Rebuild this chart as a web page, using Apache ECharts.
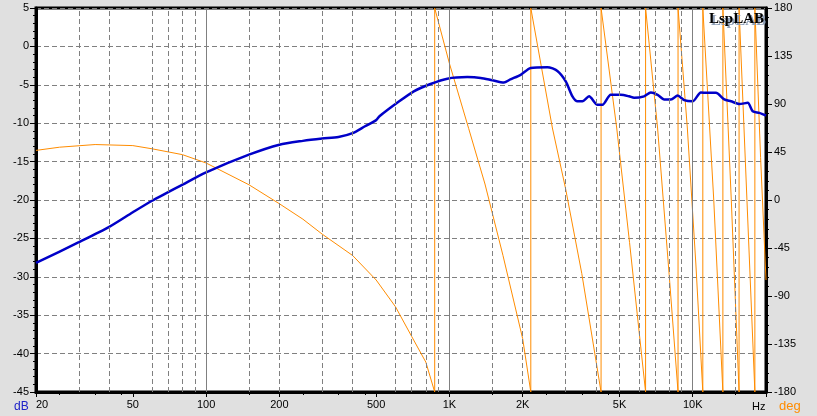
<!DOCTYPE html>
<html><head><meta charset="utf-8">
<script src="https://cdn.jsdelivr.net/npm/echarts@6/dist/echarts.min.js"></script>
<style>html,body{margin:0;padding:0;background:#e0e0e0}#c{width:817px;height:416px}</style>
</head><body><div id="c"></div>
<script>
// Magnitude (dB, left axis)
const magFreq = [20, 30, 40, 50, 60, 80, 100, 150, 200, 250, 300, 350, 400, 450, 500, 516, 610, 714, 836, 980, 1184, 1344, 1500, 1675, 1780, 1963, 2158, 2528, 2778, 3006, 3203, 3359, 3522, 3749, 4060, 4257, 4604, 5062, 5475, 5741, 6311, 6726, 7170, 7633, 8136, 8668, 9224, 9986, 10800, 11515, 12453, 13473, 14360, 15535, 16827, 17640, 18780, 20000];
const magDb = [-28.2, -25.5, -23.5, -21.6, -20.1, -18.0, -16.4, -14.1, -12.8, -12.3, -12.0, -11.8, -11.3, -10.4, -9.6, -9.1, -7.35, -5.85, -4.9, -4.2, -4.0, -4.1, -4.4, -4.7, -4.3, -3.7, -2.8, -2.7, -3.2, -4.55, -6.5, -7.15, -7.15, -6.5, -7.6, -7.6, -6.3, -6.3, -6.5, -6.7, -6.5, -6.0, -6.3, -6.9, -6.9, -6.4, -7.0, -7.15, -6.0, -6.05, -6.05, -6.9, -7.15, -7.5, -7.35, -8.45, -8.65, -9.0];
// Phase (deg, right axis), wrapped at +/-180
const phaseFreq = [20, 25, 35, 50, 60, 80, 100, 150, 200, 250, 300, 400, 500, 600, 700, 800, 870, 870, 1000, 1200, 1400, 1660, 2000, 2160, 2160, 2650, 3000, 3500, 4200, 4200, 4870, 5500, 6400, 6400, 7170, 8000, 8700, 8700, 9500, 10300, 11000, 11000, 12200, 13300, 13300, 14400, 15500, 15500, 16700, 18000, 18000, 19000, 20000];
const phaseDeg = [46.5, 49.5, 52, 51, 48, 42.5, 34.7, 14.3, -3.5, -18, -32, -52, -75, -100, -128, -152, -180, 180, 128, 67, 15, -52, -130, -180, 180, 67.5, 11, -69, -180, 180, 67.5, -40, -180, 180, 67.5, -70, -180, 180, 67.5, -60, -180, 180, 0, -180, 180, 0, -180, 180, 0, -180, 180, 40, -75];
// Axis ticks / labels / grid
const xLabelValues = [20, 50, 100, 200, 500, 1000, 2000, 5000, 10000];
const xMinorTicks = [25, 35, 45, 150, 250, 350, 450, 1500, 2500, 3500, 4500, 15000];
const xGridDashed = [30, 40, 60, 70, 80, 90, 150, 200, 300, 400, 600, 700, 800, 900, 1500, 2000, 3000, 4000, 5000, 6000, 7000, 8000, 9000, 15000];
const xGridSolid = [100, 1000, 10000];

const chart = echarts.init(document.getElementById('c'), null, {renderer: 'canvas'});
const lblFont = {fontFamily: 'Liberation Sans, Arial, sans-serif', fontSize: 11, color: '#000'};
const gridLines = xGridDashed.map(v => ({xAxis: v, lineStyle: {type: [5, 3], color: '#808080', width: 1}}))
  .concat(xGridSolid.map(v => ({xAxis: v, lineStyle: {type: 'solid', color: '#808080', width: 1}})));

chart.setOption({
  animation: false,
  backgroundColor: '#e0e0e0',
  grid: {left: 36, right: 51, top: 8, bottom: 24, show: true, backgroundColor: '#fff', borderColor: '#000', borderWidth: 3},
  xAxis: [{
    type: 'log', logBase: 10, min: 20, max: 20000,
    axisLine: {show: true, onZero: false, lineStyle: {color: '#000', width: 3}},
    axisTick: {show: true, inside: false, length: 5, customValues: xLabelValues.concat([20000]), lineStyle: {color: '#000', width: 1}},
    axisLabel: Object.assign({show: true, margin: 7, customValues: xLabelValues, alignMinLabel: 'left',
      formatter: v => v >= 1000 ? (v / 1000) + 'K' : String(v)}, lblFont),
    splitLine: {show: false}, minorTick: {show: false}
  }, {
    type: 'log', logBase: 10, min: 20, max: 20000, position: 'bottom',
    axisLine: {show: false, onZero: false},
    axisTick: {show: true, inside: false, length: 3, customValues: xMinorTicks, lineStyle: {color: '#000', width: 1}},
    axisLabel: {show: false}, splitLine: {show: false}
  }],
  yAxis: [{
    type: 'value', min: -45, max: 5, interval: 5, position: 'left',
    axisLine: {show: true, onZero: false, lineStyle: {color: '#000', width: 3}},
    axisTick: {show: true, inside: false, length: 6, lineStyle: {color: '#000'}},
    minorTick: {show: true, splitNumber: 5, length: 3, lineStyle: {color: '#000'}},
    axisLabel: Object.assign({margin: 7}, lblFont),
    splitLine: {show: true, lineStyle: {type: [5, 3], color: '#808080', width: 1}}
  }, {
    type: 'value', min: -180, max: 180, interval: 45, position: 'right',
    axisLine: {show: true, onZero: false, lineStyle: {color: '#000', width: 3}},
    axisTick: {show: true, inside: false, length: 6, lineStyle: {color: '#000'}},
    minorTick: {show: true, splitNumber: 5, length: 3, lineStyle: {color: '#000'}},
    axisLabel: Object.assign({margin: 8}, lblFont),
    splitLine: {show: false}
  }],
  series: [{
    type: 'line', xAxisIndex: 0, yAxisIndex: 0, data: [], z: 1, silent: true,
    markLine: {silent: true, symbol: ['none', 'none'], label: {show: false}, data: gridLines}
  }, {
    name: 'phase', type: 'line', xAxisIndex: 0, yAxisIndex: 1, z: 3,
    data: phaseFreq.map((f, i) => [f, phaseDeg[i]]),
    showSymbol: false, symbol: 'none',
    lineStyle: {color: '#ff8c00', width: 1}
  }, {
    name: 'magnitude', type: 'line', xAxisIndex: 0, yAxisIndex: 0, z: 4,
    data: magFreq.map((f, i) => [f, magDb[i]]),
    showSymbol: false, symbol: 'none', smooth: 0.25,
    lineStyle: {color: '#0000c8', width: 2.5}
  }],
  graphic: [
    {type: 'text', left: 14, top: 401, style: {text: 'dB', fill: '#1e22c8', font: '12px Liberation Sans, Arial, sans-serif'}},
    {type: 'text', left: 752, top: 401, style: {text: 'Hz', fill: '#000', font: '11px Liberation Sans, Arial, sans-serif'}},
    {type: 'text', left: 779, top: 400, style: {text: 'deg', fill: '#ff8c00', font: '13px Liberation Sans, Arial, sans-serif'}},
    {type: 'text', left: 711, top: 14, z: 100, style: {text: 'LspLAB', fill: '#8fa0b8', font: 'bold 15px Liberation Serif, Times New Roman, serif'}},
    {type: 'text', left: 709, top: 12, z: 101, style: {text: 'LspLAB', fill: '#000', font: 'bold 15px Liberation Serif, Times New Roman, serif'}}
  ]
});
</script>
</body></html>
